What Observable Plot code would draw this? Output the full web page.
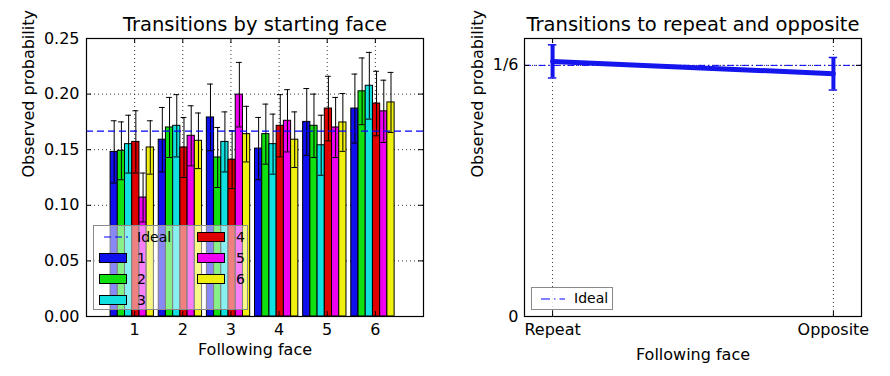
<!DOCTYPE html>
<html><head><meta charset="utf-8">
<script src="https://cdn.jsdelivr.net/npm/d3@7"></script>
<script src="https://cdn.jsdelivr.net/npm/@observablehq/plot@0.6"></script>
<style>
body{margin:0;background:#fff;font-family:"DejaVu Sans",sans-serif;}
#wrap{position:relative;width:890px;height:376px;display:flex;}
#wrap svg{display:block;}
.legend{position:absolute;border:1.5px solid #8a8a8a;background:rgba(255,255,255,0.5);box-sizing:border-box;}
.legend .lab{position:absolute;font-size:14px;line-height:14px;color:#000;}
.legend .patch{position:absolute;width:28px;height:10px;border:1px solid #000;box-sizing:border-box;}
.legend svg{position:absolute;}
</style></head><body>
<div id="wrap"></div>
<script>
// ---- data ----
const followingFaces = [1, 2, 3, 4, 5, 6];
const startingFaces = ["1", "2", "3", "4", "5", "6"];
const seriesColors = ["#1010ee", "#10e010", "#10e0e0", "#e00000", "#f000f0", "#f0f010"];
// observed probability per starting face, across following faces 1..6
const probStart1 = [0.148, 0.159, 0.179, 0.151, 0.175, 0.187];
const probStart2 = [0.149, 0.170, 0.143, 0.164, 0.1715, 0.2025];
const probStart3 = [0.155, 0.1715, 0.157, 0.155, 0.154, 0.2075];
const probStart4 = [0.157, 0.152, 0.141, 0.1715, 0.187, 0.1915];
const probStart5 = [0.107, 0.1625, 0.1995, 0.176, 0.170, 0.1845];
const probStart6 = [0.152, 0.158, 0.164, 0.159, 0.1745, 0.1925];
const errStart1 = [0.028, 0.029, 0.030, 0.028, 0.030, 0.031];
const errStart2 = [0.026, 0.027, 0.027, 0.027, 0.0285, 0.030];
const errStart3 = [0.026, 0.028, 0.027, 0.027, 0.027, 0.030];
const errStart4 = [0.028, 0.027, 0.026, 0.028, 0.029, 0.029];
const errStart5 = [0.022, 0.027, 0.029, 0.028, 0.027, 0.028];
const errStart6 = [0.024, 0.025, 0.025, 0.025, 0.026, 0.027];
const idealProb = 1 / 6;
const leftYTicks = [0, 0.05, 0.10, 0.15, 0.20, 0.25];

const transitionLabels = ["Repeat", "Opposite"];
const transitionValues = [0.1693, 0.1611];
const transitionErrors = [0.011, 0.0108];
const rightYTicks = [0, 1 / 6];
const rightYTickLabels = ["0", "1/6"];

// ---- build table ----
const probs = [probStart1, probStart2, probStart3, probStart4, probStart5, probStart6];
const errs = [errStart1, errStart2, errStart3, errStart4, errStart5, errStart6];
const barW = 0.15;
const rows = [];
startingFaces.forEach((s, i) => followingFaces.forEach((f, j) => {
  rows.push({start: s, i, face: f, p: probs[i][j], e: errs[i][j]});
}));
const bx1 = d => d.face - 0.5 + d.i * barW;
const bc = d => bx1(d) + barW / 2;
const cap = 0.06;

const W = 445, H = 376, mT = 38, mB = 60;
const font = {fontFamily: "DejaVu Sans", fontSize: "16px", background: "transparent"};
const tick = 5;
const dot = "1,3";

// ---- left plot ----
const lmL = 86, lmR = 22;
const lpw = W - lmL - lmR, ph = H - mT - mB;
const left = Plot.plot({
  width: W, height: H, marginLeft: lmL, marginRight: lmR, marginTop: mT, marginBottom: mB,
  style: font,
  x: {domain: [0, 7]},
  y: {domain: [0, 0.25]},
  color: {domain: startingFaces, range: seriesColors},
  marks: [
    Plot.ruleX(followingFaces, {x: d => d, stroke: "#000", strokeWidth: 0.8, strokeDasharray: dot}),
    Plot.ruleY(leftYTicks, {y: d => d, stroke: "#000", strokeWidth: 0.8, strokeDasharray: dot}),
    Plot.rect(rows, {x1: bx1, x2: d => bx1(d) + barW, y1: d => 0, y2: "p", fill: "start", stroke: "#000", strokeWidth: 1}),
    Plot.ruleX(rows, {x: bc, y1: d => d.p - d.e, y2: d => d.p + d.e, stroke: "#000", strokeWidth: 1}),
    Plot.ruleY(rows, {y: d => d.p + d.e, x1: d => bc(d) - cap, x2: d => bc(d) + cap, stroke: "#000", strokeWidth: 1}),
    Plot.ruleY(rows, {y: d => d.p - d.e, x1: d => bc(d) - cap, x2: d => bc(d) + cap, stroke: "#000", strokeWidth: 1}),
    Plot.ruleY([idealProb], {y: d => d, stroke: "#0000ff", strokeWidth: 1.2, strokeDasharray: "7,4"}),
    Plot.ruleX(followingFaces, {x: d => d, insetTop: ph - tick, stroke: "#000"}),
    Plot.ruleX(followingFaces, {x: d => d, insetBottom: ph - tick, stroke: "#000"}),
    Plot.ruleY(leftYTicks, {y: d => d, insetRight: lpw - tick, stroke: "#000"}),
    Plot.ruleY(leftYTicks, {y: d => d, insetLeft: lpw - tick, stroke: "#000"}),
    Plot.frame({stroke: "#000", strokeWidth: 1.2}),
    Plot.axisX({ticks: followingFaces, tickSize: 0, tickPadding: 7, label: null, tickFormat: d => String(d)}),
    Plot.axisY({ticks: leftYTicks, tickSize: 0, tickPadding: 7, label: null, tickFormat: d3.format(".2f")}),
    Plot.text(["Transitions by starting face"], {text: d => d, frameAnchor: "top", lineAnchor: "middle", dy: -14, fontSize: 19.5}),
    Plot.text(["Following face"], {text: d => d, frameAnchor: "bottom", lineAnchor: "middle", dy: 33}),
    Plot.text(["Observed probability"], {text: d => d, frameAnchor: "left", lineAnchor: "middle", rotate: -90, dx: -58})
  ]
});

// ---- right plot ----
const rmL = 79, rmR = 29;
const rpw = W - rmL - rmR;
const blue = "#1515ee";
const pts = transitionLabels.map((l, i) => ({i, v: transitionValues[i], e: transitionErrors[i]}));
const rcap = 0.015;
const right = Plot.plot({
  width: W, height: H, marginLeft: rmL, marginRight: rmR, marginTop: mT, marginBottom: mB,
  style: font,
  x: {domain: [-0.1, 1.1]},
  y: {domain: [0, 0.1845]},
  marks: [
    Plot.ruleX([0, 1], {x: d => d, stroke: "#000", strokeWidth: 0.8, strokeDasharray: dot}),
    Plot.ruleY(rightYTicks, {y: d => d, stroke: "#000", strokeWidth: 0.8, strokeDasharray: dot}),
    Plot.ruleY([idealProb], {y: d => d, stroke: "#0000ff", strokeWidth: 1, strokeDasharray: "7,3,1.5,3"}),
    Plot.ruleX(pts, {x: "i", y1: d => d.v - d.e, y2: d => d.v + d.e, stroke: blue, strokeWidth: 4}),
    Plot.ruleY(pts, {y: d => d.v + d.e, x1: d => d.i - rcap, x2: d => d.i + rcap, stroke: blue, strokeWidth: 1.5}),
    Plot.ruleY(pts, {y: d => d.v - d.e, x1: d => d.i - rcap, x2: d => d.i + rcap, stroke: blue, strokeWidth: 1.5}),
    Plot.line(pts, {x: "i", y: "v", stroke: blue, strokeWidth: 5}),
    Plot.ruleX([0, 1], {x: d => d, insetTop: ph - tick, stroke: "#000"}),
    Plot.ruleX([0, 1], {x: d => d, insetBottom: ph - tick, stroke: "#000"}),
    Plot.ruleY(rightYTicks, {y: d => d, insetRight: rpw - tick, stroke: "#000"}),
    Plot.ruleY(rightYTicks, {y: d => d, insetLeft: rpw - tick, stroke: "#000"}),
    Plot.frame({stroke: "#000", strokeWidth: 1.2}),
    Plot.axisX({ticks: [0, 1], tickSize: 0, tickPadding: 7, label: null, tickFormat: i => transitionLabels[i]}),
    Plot.axisY({ticks: rightYTicks, tickSize: 0, tickPadding: 6, label: null, tickFormat: d => rightYTickLabels[rightYTicks.indexOf(d)]}),
    Plot.text(["Transitions to repeat and opposite"], {text: d => d, frameAnchor: "top", lineAnchor: "middle", dy: -14, fontSize: 19.5}),
    Plot.text(["Following face"], {text: d => d, frameAnchor: "bottom", lineAnchor: "middle", dy: 38}),
    Plot.text(["Observed probability"], {text: d => d, frameAnchor: "left", lineAnchor: "middle", rotate: -90, dx: -47})
  ]
});

const wrap = document.getElementById("wrap");
wrap.appendChild(left);
wrap.appendChild(right);

// ---- legends ----
function idealLine(dash) {
  return `<svg width="24" height="4" style="left:10px;top:9px"><line x1="0" x2="24" y1="2" y2="2" stroke="#0000ff" stroke-width="1.2" stroke-dasharray="${dash}"/></svg>`;
}
const lg = document.createElement("div");
lg.className = "legend";
Object.assign(lg.style, {left: "93px", top: "225px", width: "155px", height: "85px"});
let html = idealLine("7,4") + `<div class="lab" style="left:43px;top:4px">Ideal</div>`;
startingFaces.forEach((s, i) => {
  const col = i < 3 ? 0 : 1;
  const row = i < 3 ? i + 1 : i - 3;
  const px = col === 0 ? 5 : 103;
  const tx = col === 0 ? 43 : 142;
  const cy = 11 + row * 21;
  html += `<div class="patch" style="left:${px}px;top:${cy - 5}px;background:${seriesColors[i]}"></div>`;
  html += `<div class="lab" style="left:${tx}px;top:${cy - 7}px">${s}</div>`;
});
lg.innerHTML = html;
wrap.appendChild(lg);

const rg = document.createElement("div");
rg.className = "legend";
Object.assign(rg.style, {left: "531px", top: "287px", width: "82px", height: "23px", background: "rgba(255,255,255,0.8)"});
rg.innerHTML = `<svg width="24" height="4" style="left:9px;top:9px"><line x1="0" x2="24" y1="2" y2="2" stroke="#0000ff" stroke-width="1.2" stroke-dasharray="9,4,1.5,4"/></svg><div class="lab" style="left:42px;top:3px">Ideal</div>`;
wrap.appendChild(rg);
</script>
</body></html>
